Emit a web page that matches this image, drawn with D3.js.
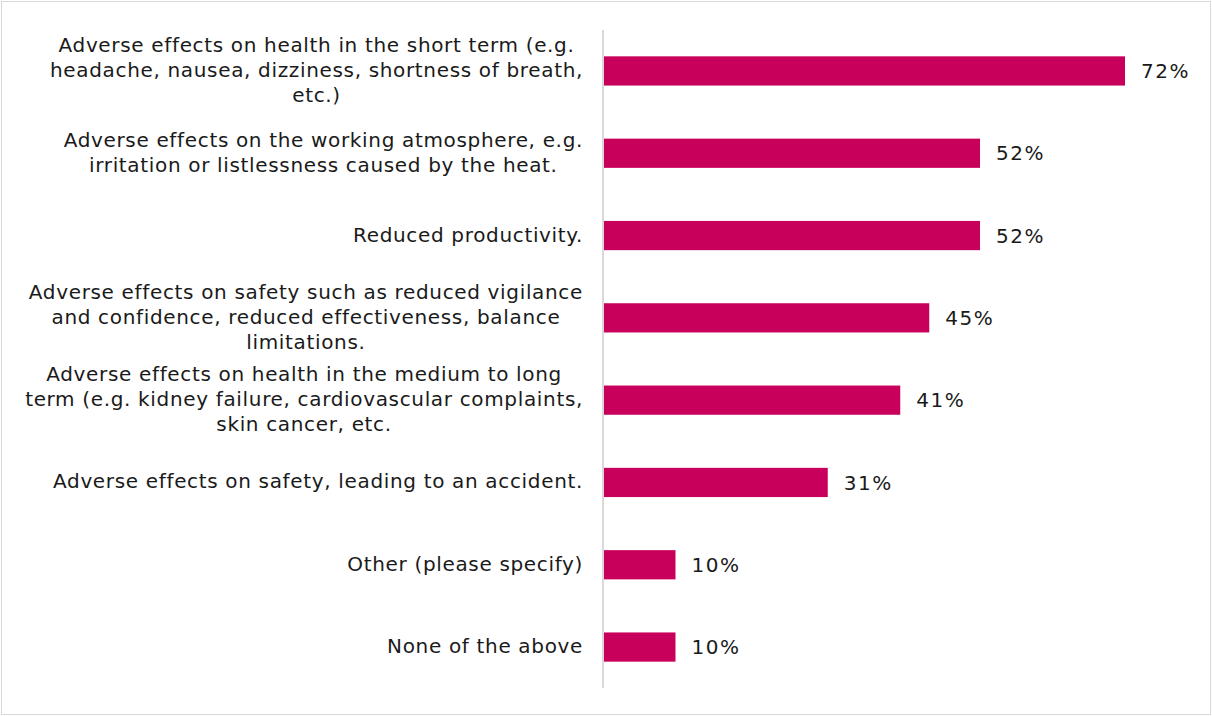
<!DOCTYPE html>
<html>
<head>
<meta charset="utf-8">
<script src="https://cdn.jsdelivr.net/npm/d3@7"></script>
<style>
  html, body { margin: 0; padding: 0; background: #fff; }
  svg { display: block; }
  text { font-family: "DejaVu Sans", Verdana, sans-serif; fill: #1a1a1a; }
</style>
</head>
<body>
<svg id="chart" width="1212" height="716"></svg>
<script>
// Reasons reported (each entry is one wrapped label, lines as shown)
const categories = [
  ["Adverse effects on health in the short term (e.g.", "headache, nausea, dizziness, shortness of breath,", "etc.)"],
  ["Adverse effects on the working atmosphere, e.g.", "irritation or listlessness caused by the heat."],
  ["Reduced productivity."],
  ["Adverse effects on safety such as reduced vigilance", "and confidence, reduced effectiveness, balance", "limitations."],
  ["Adverse effects on health in the medium to long", "term (e.g. kidney failure, cardiovascular complaints,", "skin cancer, etc."],
  ["Adverse effects on safety, leading to an accident."],
  ["Other (please specify)"],
  ["None of the above"]
];
const values = [72, 52, 52, 45, 41, 31, 10, 10];
const valueLabels = ["72%", "52%", "52%", "45%", "41%", "31%", "10%", "10%"];

const W = 1212, H = 716;
const svg = d3.select("#chart");

// outer frame
svg.append("rect")
  .attr("x", 1.5).attr("y", 1.5)
  .attr("width", W - 3).attr("height", H - 3)
  .attr("fill", "#fff").attr("stroke", "#d9d9d9").attr("stroke-width", 1);

const axisX = 603, plotTop = 30, plotBottom = 688;

const x = d3.scaleLinear().domain([0, 100]).range([axisX, axisX + 725]);
const y = d3.scaleBand()
  .domain(d3.range(categories.length))
  .range([plotTop, plotBottom])
  .paddingInner(0.645)
  .paddingOuter(0.32);

// bars
svg.append("g").selectAll("rect")
  .data(values)
  .join("rect")
  .attr("x", x(0))
  .attr("y", (d, i) => y(i))
  .attr("width", d => x(d) - x(0))
  .attr("height", y.bandwidth())
  .attr("fill", "#C9005B");

// vertical category axis line
svg.append("line")
  .attr("x1", axisX).attr("x2", axisX)
  .attr("y1", plotTop).attr("y2", plotBottom)
  .attr("stroke", "#d9d9d9").attr("stroke-width", 2);

// value labels
svg.append("g").selectAll("text")
  .data(values)
  .join("text")
  .attr("x", d => x(d) + 16)
  .attr("y", (d, i) => y(i) + y.bandwidth() / 2)
  .attr("dy", "0.36em")
  .attr("font-size", 20)
  .attr("letter-spacing", 1.5)
  .text((d, i) => valueLabels[i]);

// category labels: block right-aligned to the axis, lines centred inside the block
const labelRight = 583, lineH = 25;
const labelG = svg.append("g");
categories.forEach((lines, i) => {
  const g = labelG.append("g");
  const texts = lines.map((ln, j) => g.append("text")
    .attr("font-size", 20)
    .attr("letter-spacing", 0.66)
    .attr("text-anchor", "middle")
    .attr("dy", "0.3em")
    .attr("y", y(i) + y.bandwidth() / 2 + (j - (lines.length - 1) / 2) * lineH)
    .text(ln));
  const maxW = d3.max(texts, t => t.node().getComputedTextLength());
  texts.forEach(t => t.attr("x", labelRight - maxW / 2));
});
</script>
</body>
</html>
